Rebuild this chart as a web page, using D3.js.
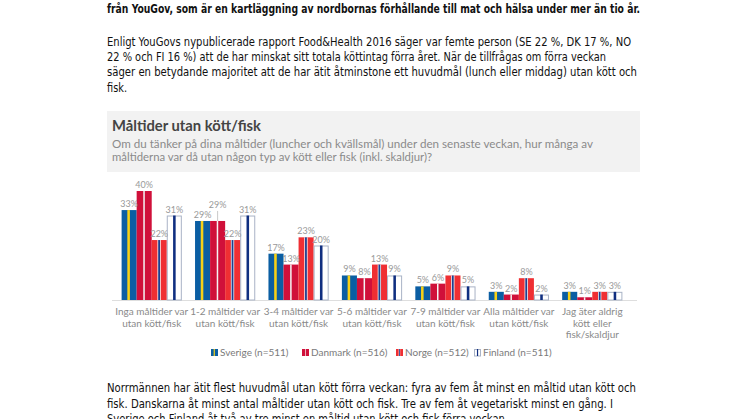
<!DOCTYPE html>
<html>
<head>
<meta charset="utf-8">
<script src="https://cdn.jsdelivr.net/npm/d3@7"></script>
<style>
  body { margin: 0; background: #fff; }
  svg { display: block; }
</style>
</head>
<body>
<svg width="746" height="419"></svg>
<script>
// data
let categories = [
  ['Inga måltider var', 'utan kött/fisk'],
  ['1-2 måltider var', 'utan kött/fisk'],
  ['3-4 måltider var', 'utan kött/fisk'],
  ['5-6 måltider var', 'utan kött/fisk'],
  ['7-9 måltider var', 'utan kött/fisk'],
  ['Alla måltider var', 'utan kött/fisk'],
  ['Jag äter aldrig', 'kött eller', 'fisk/skaldjur']
]
let countries = ['Sverige (n=511)', 'Danmark (n=516)', 'Norge (n=512)', 'Finland (n=511)']
let sverige = [33, 29, 17, 9, 5, 3, 3]
let danmark = [40, 29, 13, 8, 6, 2, 1]
let norge = [22, 22, 23, 13, 9, 8, 3]
let finland = [31, 31, 20, 9, 5, 2, 3]

let topText = [
  'från YouGov, som är en kartläggning av nordbornas förhållande till mat och hälsa under mer än tio år.'
]
let introText = [
  'Enligt YouGovs nypublicerade rapport Food&Health 2016 säger var femte person (SE 22 %, DK 17 %, NO',
  '22 % och FI 16 %) att de har minskat sitt totala köttintag förra året. När de tillfrågas om förra veckan',
  'säger en betydande majoritet att de har ätit åtminstone ett huvudmål (lunch eller middag) utan kött och',
  'fisk.'
]
let outroText = [
  'Norrmännen har ätit flest huvudmål utan kött förra veckan: fyra av fem åt minst en måltid utan kött och',
  'fisk. Danskarna åt minst antal måltider utan kött och fisk. Tre av fem åt vegetariskt minst en gång. I',
  'Sverige och Finland åt två av tre minst en måltid utan kött och fisk förra veckan.'
]
let chartTitle = 'Måltider utan kött/fisk'
let chartSub = [
  'Om du tänker på dina måltider (luncher och kvällsmål) under den senaste veckan, hur många av',
  'måltiderna var då utan någon typ av kött eller fisk (inkl. skaldjur)?'
]

let series = [sverige, danmark, norge, finland]
let svg = d3.select('svg')
let bodyFont = '"Liberation Sans Narrow", "DejaVu Sans Condensed", sans-serif'
let chartFont = 'Lato, "Open Sans", sans-serif'

drawParagraphs()
drawChart()

function writeLines(lines, y0, lh, widths, bold) {
  svg
    .append('g')
    .selectAll('text')
    .data(lines)
    .enter()
    .append('text')
    .attr('x', 107)
    .attr('y', (d, i) => y0 + i * lh)
    .attr('font-family', bodyFont)
    .attr('font-size', 12.5)
    .attr('font-weight', bold ? 'bold' : 'normal')
    .attr('fill', '#111')
    .attr('textLength', (d, i) => widths[i])
    .attr('lengthAdjust', 'spacingAndGlyphs')
    .text(d => d)
}

function drawParagraphs() {
  writeLines(topText, 13, 15, [533], true)
  writeLines(introText, 46, 15.2, [524, 499, 530, 20], false)
  writeLines(outroText, 392, 15.5, [529, 506, 401], false)
}

// flag style bars
function flagBar(g, k, x, y, w, h) {
  if (h <= 0) return
  if (k === 0) {
    g.append('rect').attr('x', x).attr('y', y).attr('width', w).attr('height', h).attr('fill', '#0b5ea3')
    g.append('rect').attr('x', x + w * 0.38).attr('y', y).attr('width', w * 0.17).attr('height', h).attr('fill', '#f7d117')
  } else if (k === 1) {
    g.append('rect').attr('x', x).attr('y', y).attr('width', w).attr('height', h).attr('fill', '#d0103a')
    g.append('rect').attr('x', x + w * 0.44).attr('y', y).attr('width', w * 0.1).attr('height', h).attr('fill', '#f4f4f4')
  } else if (k === 2) {
    g.append('rect').attr('x', x).attr('y', y).attr('width', w).attr('height', h).attr('fill', '#ef2f33')
    g.append('rect').attr('x', x + w * 0.38).attr('y', y).attr('width', w * 0.22).attr('height', h).attr('fill', '#f6f6f6')
    g.append('rect').attr('x', x + w * 0.43).attr('y', y).attr('width', w * 0.12).attr('height', h).attr('fill', '#1d3f8f')
  } else {
    g.append('rect').attr('x', x + 0.5).attr('y', y + 0.5).attr('width', w - 1).attr('height', h - 0.5)
      .attr('fill', '#fff').attr('stroke', '#a9b3c6').attr('stroke-width', 1)
    g.append('rect').attr('x', x + w * 0.42).attr('y', y).attr('width', w * 0.17).attr('height', h).attr('fill', '#102f80')
  }
}

function drawChart() {
  // header panel
  svg.append('rect').attr('x', 107).attr('y', 111).attr('width', 533).attr('height', 61).attr('fill', '#f2f2f2')
  svg.append('text')
    .attr('x', 112).attr('y', 131)
    .attr('font-family', chartFont).attr('font-size', 15).attr('font-weight', 'bold')
    .attr('fill', '#444')
    .attr('textLength', 149).attr('lengthAdjust', 'spacingAndGlyphs')
    .text(chartTitle)
  svg.append('g')
    .selectAll('text')
    .data(chartSub)
    .enter()
    .append('text')
    .attr('x', 112)
    .attr('y', (d, i) => 148 + i * 12.5)
    .attr('font-family', chartFont).attr('font-size', 10.5)
    .attr('fill', '#8a8a8a')
    .attr('textLength', (d, i) => [481, 320][i]).attr('lengthAdjust', 'spacingAndGlyphs')
    .text(d => d)

  let x0 = d3
    .scaleBand()
    .domain(d3.range(categories.length))
    .range([115, 629])
    .paddingInner(0.18)
    .paddingOuter(0.09)

  let x1 = d3
    .scaleBand()
    .domain(d3.range(countries.length))
    .range([0, x0.bandwidth()])

  let y = d3
    .scaleLinear()
    .domain([0, 40])
    .range([300, 191])

  // baseline
  svg.append('line')
    .attr('x1', 112).attr('x2', 637).attr('y1', 300.5).attr('y2', 300.5)
    .attr('stroke', '#dedede')

  let bars = svg.append('g')
  let labels = svg.append('g')
    .attr('font-family', chartFont).attr('font-size', 9).attr('fill', '#999')
    .attr('text-anchor', 'middle')

  categories.forEach((c, i) => {
    series.forEach((s, k) => {
      let bx = x0(i) + x1(k)
      let w = x1.bandwidth()
      flagBar(bars, k, bx, y(s[i]), w, y(0) - y(s[i]))
      let ly = y(s[i]) - 3
      // wide labels at the same height as the previous one get lifted
      let prev = k > 0 ? series[k - 1][i] : null
      if (prev !== null && prev >= 10 && s[i] >= 10 && Math.abs(prev - s[i]) < 2) {
        labels.append('line')
          .attr('x1', bx + w / 2).attr('x2', bx + w / 2)
          .attr('y1', ly - 7).attr('y2', y(s[i]))
          .attr('stroke', '#bbb').attr('stroke-width', 0.8)
        ly = ly - 10
      }
      labels.append('text')
        .attr('x', bx + w / 2)
        .attr('y', ly)
        .text(s[i] + '%')
    })
  })

  // category labels
  let xAxis = svg.append('g')
    .attr('font-family', chartFont).attr('font-size', 10).attr('fill', '#8a8a8a')
    .attr('text-anchor', 'middle')
  categories.forEach((c, i) => {
    xAxis.append('g')
      .selectAll('text')
      .data(c)
      .enter()
      .append('text')
      .attr('x', x0(i) + x0.bandwidth() / 2)
      .attr('y', (d, j) => 315 + j * 11.5)
      .text(d => d)
  })

  // legend
  let legX = [211, 302, 396, 474]
  let legend = svg.append('g')
  countries.forEach((c, k) => {
    flagBar(legend, k, legX[k], 349, 7, 7)
    legend.append('text')
      .attr('x', legX[k] + 9)
      .attr('y', 356)
      .attr('font-family', chartFont).attr('font-size', 10).attr('fill', '#7a7a7a')
      .text(c)
  })
}
</script>
</body>
</html>
